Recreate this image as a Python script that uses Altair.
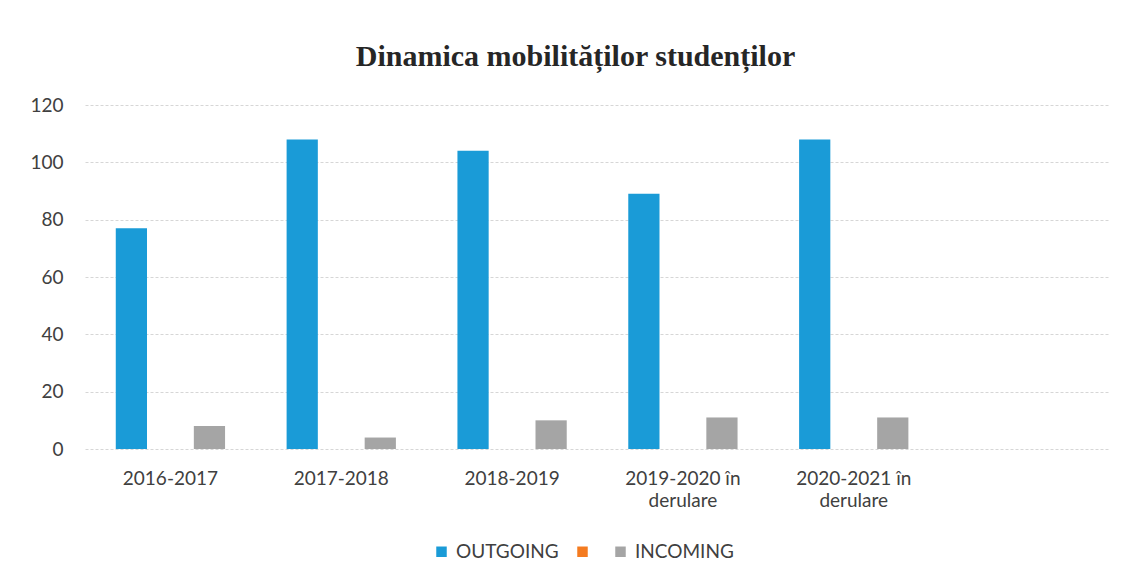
import altair as alt
import pandas as pd

categories = ["2016-2017", "2017-2018", "2018-2019", "2019-2020 în|derulare", "2020-2021 în|derulare", " "]
series = ["OUTGOING", "       ", "INCOMING"]
outgoing = [77, 108, 104, 89, 108]
blank = [0, 0, 0, 0, 0]
incoming = [8, 4, 10, 11, 11]
colors = ["#1a9bd7", "#f47b20", "#a5a5a5"]

rows = []
for i, c in enumerate(categories[:5]):
    for s, vals in zip(series, [outgoing, blank, incoming]):
        rows.append({"cat": c, "series": s, "value": vals[i]})
df = pd.DataFrame(rows)

chart = alt.Chart(df).mark_bar().encode(
    x=alt.X("cat:N", sort=categories,
            scale=alt.Scale(domain=categories, paddingInner=0.31, paddingOuter=0.155),
            axis=alt.Axis(title=None, labelAngle=0, domain=False, ticks=False,
                          labelExpr="split(datum.label, '|')",
                          labelFont="Lato", labelFontSize=19, labelColor="#404040",
                          labelPadding=20, labelLineHeight=22)),
    xOffset=alt.XOffset("series:N", sort=series,
                        scale=alt.Scale(domain=series, paddingInner=0.2, paddingOuter=0.11)),
    y=alt.Y("value:Q", scale=alt.Scale(domain=[0, 120], nice=False),
            axis=alt.Axis(title=None, values=[0, 20, 40, 60, 80, 100, 120],
                          domain=False, ticks=False, labelPadding=22,
                          labelFont="Lato", labelFontSize=19, labelColor="#404040",
                          gridColor="#d6d6d6", gridWidth=1, gridDash=[3, 2])),
    color=alt.Color("series:N", sort=series,
                    scale=alt.Scale(domain=series, range=colors),
                    legend=alt.Legend(title=None, orient="none", direction="horizontal",
                                      legendX=347, legendY=437,
                                      symbolType="square", symbolSize=110,
                                      symbolStrokeWidth=0,
                                      labelFont="Lato", labelFontSize=19,
                                      labelColor="#404040", columnPadding=14,
                                      labelOffset=5)),
).properties(
    width=1025,
    height=344,
    background="white",
    title=alt.TitleParams("Dinamica mobilităților studenților",
                          font="Liberation Serif", fontSize=30, fontWeight="bold",
                          color="#262626", anchor="middle", dx=-22, offset=24),
    autosize=alt.AutoSizeParams(type="none"),
    padding={"left": 85, "top": 105, "right": 16, "bottom": 136},
).configure_view(strokeWidth=0, stroke="transparent")

chart.save("out.html", embed_options={"renderer": "svg", "actions": False})
